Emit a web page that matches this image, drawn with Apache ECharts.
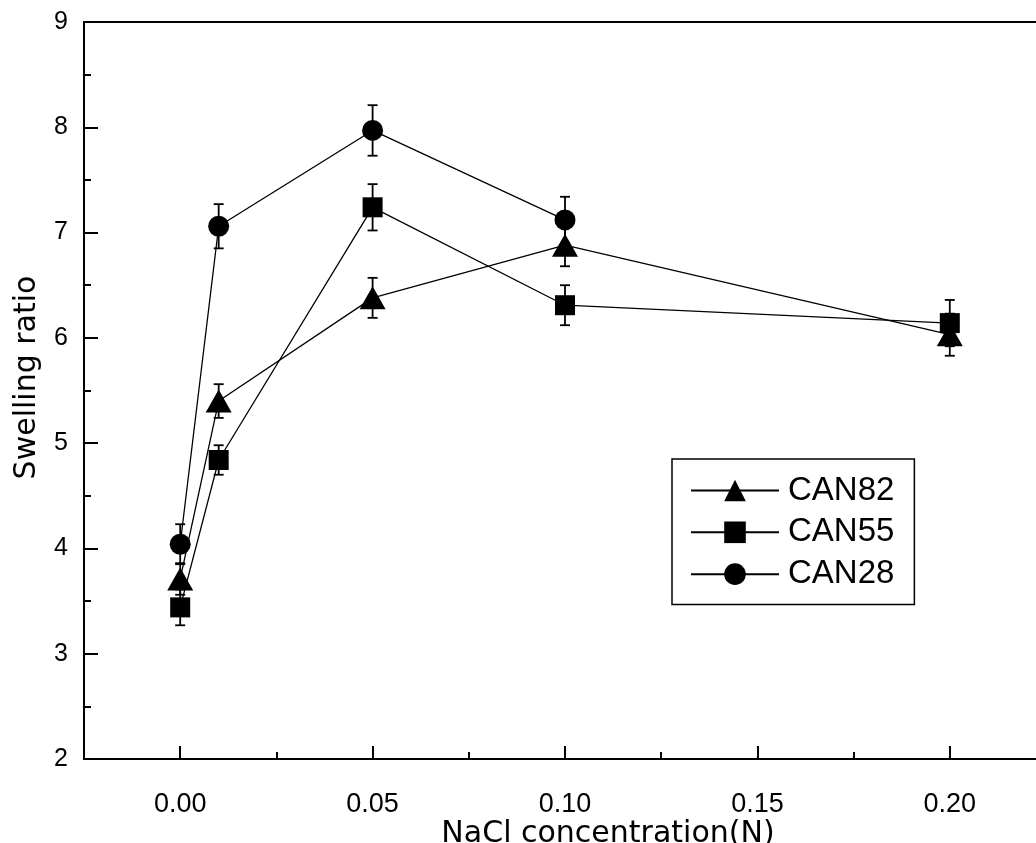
<!DOCTYPE html>
<html>
<head>
    <title>Swelling ratio vs NaCl concentration</title>
    <script src="https://cdnjs.cloudflare.com/ajax/libs/echarts/6.0.0/echarts.min.js"></script>
    <style>
        html, body { margin: 0; padding: 0; background: #fff; }
        #chart { width: 1036px; height: 843px; }
    </style>
</head>
<body>
    <div id="chart"></div>
    <script>
        // data
        const concentration = [0.00, 0.01, 0.05, 0.10, 0.20];
        const can82 = [3.71, 5.40, 6.38, 6.88, 6.03];
        const can82Err = [0.15, 0.16, 0.19, 0.20, 0.20];
        const can55 = [3.44, 4.84, 7.24, 6.31, 6.14];
        const can55Err = [0.17, 0.14, 0.22, 0.19, 0.22];
        const can28 = [4.04, 7.06, 7.97, 7.12, null];
        const can28Err = [0.19, 0.21, 0.24, 0.22, null];

        const xMajorTicks = [0.00, 0.05, 0.10, 0.15, 0.20];
        const xMinorTicks = [0.025, 0.075, 0.125, 0.175];

        const labelFont = '"Liberation Sans", Arial, sans-serif';
        const nameFont = '"DejaVu Sans", sans-serif';

        function pairs(values) {
            return concentration.map((x, i) => [x, values[i]]);
        }

        function errData(values, errs) {
            const out = [];
            concentration.forEach((x, i) => {
                if (values[i] != null) out.push([x, values[i] - errs[i], values[i] + errs[i]]);
            });
            return out;
        }

        function errorSeries(name, values, errs) {
            return {
                name: name,
                type: 'custom',
                z: 1,
                silent: true,
                data: errData(values, errs),
                encode: { x: 0, y: [1, 2] },
                renderItem: function (params, api) {
                    const top = api.coord([api.value(0), api.value(2)]);
                    const bot = api.coord([api.value(0), api.value(1)]);
                    const hw = 5;
                    const style = { stroke: '#000', lineWidth: 1.8 };
                    return {
                        type: 'group',
                        children: [
                            { type: 'line', shape: { x1: top[0], y1: top[1], x2: bot[0], y2: bot[1] }, style: style },
                            { type: 'line', shape: { x1: top[0] - hw, y1: top[1], x2: top[0] + hw, y2: top[1] }, style: style },
                            { type: 'line', shape: { x1: bot[0] - hw, y1: bot[1], x2: bot[0] + hw, y2: bot[1] }, style: style }
                        ]
                    };
                }
            };
        }

        function lineSeries(name, values, symbol, size) {
            return {
                name: name,
                type: 'line',
                z: 3,
                data: pairs(values),
                symbol: symbol,
                symbolSize: size,
                showAllSymbol: true,
                itemStyle: { color: '#000' },
                lineStyle: { color: '#000', width: 1.3 },
                emphasis: { disabled: true },
                animation: false
            };
        }

        const chart = echarts.init(document.getElementById('chart'));

        chart.setOption({
            backgroundColor: '#fff',
            animation: false,
            grid: {
                left: 84,
                right: -10,
                top: 22,
                bottom: 84,
                containLabel: false,
                outerBoundsMode: 'none',
                show: true,
                borderColor: '#000',
                borderWidth: 2
            },
            legend: {
                orient: 'vertical',
                left: 672,
                top: 459,
                data: ['CAN82', 'CAN55', 'CAN28'],
                itemWidth: 88,
                itemHeight: 27,
                itemGap: -15,
                padding: [3, 20, 2, 18],
                borderColor: '#000',
                borderWidth: 1.5,
                backgroundColor: '#fff',
                selectedMode: false,
                textStyle: { fontFamily: labelFont, fontSize: 33, color: '#000', padding: [0, 0, 0, 4] }
            },
            xAxis: [{
                type: 'value',
                min: -0.025,
                max: 0.225,
                axisLine: { onZero: false, lineStyle: { color: '#000', width: 2 } },
                axisTick: { inside: true, length: 13, customValues: xMajorTicks, lineStyle: { color: '#000', width: 2 } },
                axisLabel: {
                    customValues: xMajorTicks,
                    formatter: v => v.toFixed(2),
                    fontFamily: labelFont, fontSize: 27, color: '#000', margin: 22
                },
                splitLine: { show: false },
                name: 'NaCl concentration(N)',
                nameLocation: 'middle',
                nameGap: 45,
                nameMoveOverlap: false,
                nameTextStyle: { fontFamily: nameFont, fontSize: 30, color: '#000', padding: [0, 0, 0, 86] }
            }, {
                type: 'value',
                position: 'bottom',
                min: -0.025,
                max: 0.225,
                axisLine: { show: false },
                axisTick: { inside: true, length: 7, customValues: xMinorTicks, lineStyle: { color: '#000', width: 2 } },
                axisLabel: { show: false },
                splitLine: { show: false }
            }],
            yAxis: {
                type: 'value',
                min: 2,
                max: 9,
                interval: 1,
                axisLine: { onZero: false, lineStyle: { color: '#000', width: 2 } },
                axisTick: { inside: true, length: 14, lineStyle: { color: '#000', width: 2 } },
                minorTick: { show: true, splitNumber: 2, length: 7, lineStyle: { color: '#000', width: 2 } },
                axisLabel: { fontFamily: labelFont, fontSize: 25, color: '#000', margin: 16 },
                splitLine: { show: false },
                name: 'Swelling ratio',
                nameLocation: 'middle',
                nameGap: 27,
                nameMoveOverlap: false,
                nameTextStyle: { fontFamily: nameFont, fontSize: 30, color: '#000', padding: [0, 0, 0, 26] }
            },
            series: [
                errorSeries('err82', can82, can82Err),
                errorSeries('err55', can55, can55Err),
                errorSeries('err28', can28, can28Err),
                lineSeries('CAN82', can82, 'triangle', [26, 23]),
                lineSeries('CAN55', can55, 'rect', 20),
                lineSeries('CAN28', can28, 'circle', 21)
            ]
        });
    </script>
</body>
</html>
